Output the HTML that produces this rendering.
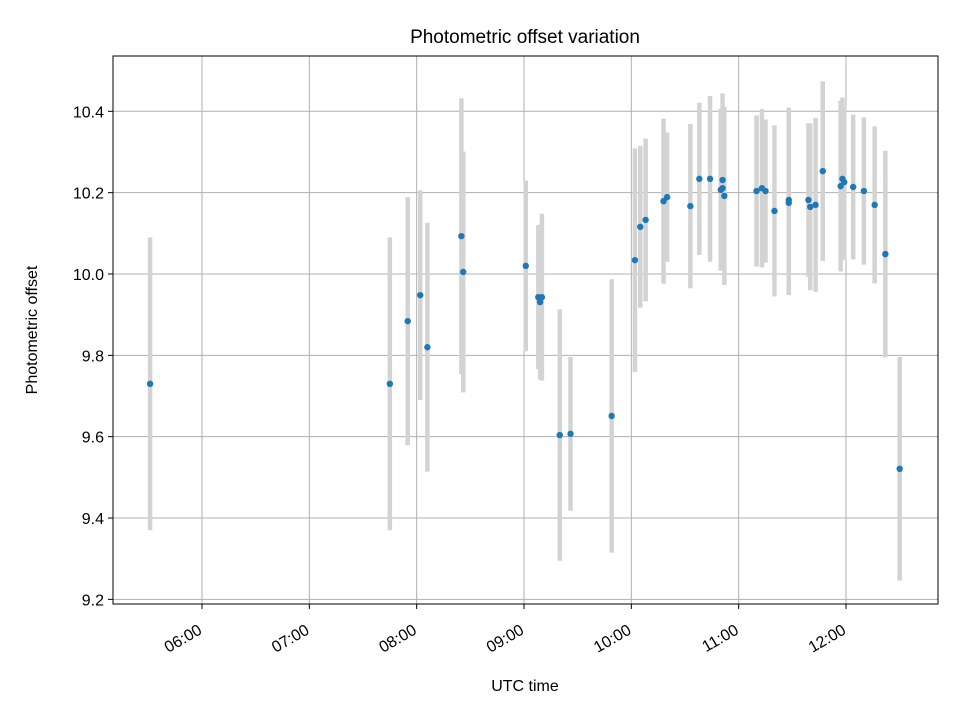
<!DOCTYPE html>
<html><head><meta charset="utf-8"><style>
html,body{margin:0;padding:0;background:#fff;}
svg text{font-family:"Liberation Sans","DejaVu Sans",sans-serif;fill:#000;}
</style></head><body>
<svg id="chart" width="960" height="720" viewBox="0 0 960 720" xmlns="http://www.w3.org/2000/svg">
<rect x="0" y="0" width="960" height="720" fill="#fff"/>
<g id="grid"></g>
<g id="errs"></g>
<g id="pts"></g>
<rect x="113" y="56" width="825" height="548" fill="none" stroke="#000" stroke-width="1"/>
<g id="axes"></g>
<text x="525" y="43" font-size="19" text-anchor="middle">Photometric offset variation</text>
<text x="525" y="691" font-size="16" text-anchor="middle">UTC time</text>
<text x="0" y="0" font-size="16" text-anchor="middle" transform="translate(37,330) rotate(-90)">Photometric offset</text>
</svg>
<script>
const times = ["05:31","07:45","07:55","08:02","08:06","08:25","08:26","09:01","09:08","09:09","09:10","09:20","09:26","09:49","10:02","10:05","10:08","10:18","10:20","10:33","10:38","10:44","10:50","10:51","10:51","10:52","11:10","11:13","11:15","11:20","11:28","11:28","11:39","11:40","11:43","11:47","11:57","11:58","11:59","12:04","12:10","12:16","12:22","12:30"];
const offsets = [9.730,9.730,9.884,9.948,9.820,10.093,10.005,10.020,9.943,9.931,9.943,9.604,9.607,9.651,10.034,10.116,10.133,10.179,10.189,10.167,10.234,10.234,10.207,10.211,10.231,10.192,10.204,10.211,10.204,10.155,10.182,10.175,10.182,10.165,10.170,10.253,10.216,10.234,10.226,10.214,10.204,10.170,10.049,9.521];
const errors = [0.360,0.360,0.305,0.258,0.306,0.339,0.296,0.210,0.177,0.190,0.205,0.309,0.189,0.336,0.275,0.199,0.200,0.203,0.159,0.202,0.187,0.204,0.199,0.199,0.213,0.219,0.186,0.195,0.176,0.210,0.227,0.227,0.189,0.205,0.214,0.221,0.210,0.200,0.187,0.178,0.181,0.193,0.254,0.275];
const xTicks = ["06:00","07:00","08:00","09:00","10:00","11:00","12:00"];
const yTicks = [9.2,9.4,9.6,9.8,10.0,10.2,10.4];

const L=113,R=938,T=56,B=604;
const xMin=5.171,xMax=12.857,yMin=9.1886,yMax=10.536;
function hrs(s){const p=s.split(":");return +p[0]+ +p[1]/60;}
function xs(h){return L+(h-xMin)/(xMax-xMin)*(R-L);}
function ys(v){return B-(v-yMin)/(yMax-yMin)*(B-T);}
const NS="http://www.w3.org/2000/svg";
function mk(tag,attrs,parent){const e=document.createElementNS(NS,tag);for(const k in attrs)e.setAttribute(k,attrs[k]);parent.appendChild(e);return e;}
const grid=document.getElementById('grid'),axes=document.getElementById('axes'),errs=document.getElementById('errs'),pts=document.getElementById('pts');

xTicks.forEach(t=>{
  const x=xs(hrs(t));
  const g=mk('line',{x1:x,x2:x,y1:T,y2:B,stroke:'#b0b0b0','stroke-width':1},grid);
  
  
  const tk=mk('line',{x1:x,x2:x,y1:B,y2:B+5,stroke:'#000','stroke-width':1},axes);
  
  
  const lb=mk('text',{'font-size':16,'text-anchor':'end',transform:`translate(${x+1},${633}) rotate(-30)`},axes);
  lb.textContent=t;
  
  
});
yTicks.forEach(v=>{
  const y=ys(v);
  const g=mk('line',{x1:L,x2:R,y1:y,y2:y,stroke:'#b0b0b0','stroke-width':1},grid);
  
  
  const tk=mk('line',{x1:L-5,x2:L,y1:y,y2:y,stroke:'#000','stroke-width':1},axes);
  
  
  const lb=mk('text',{x:L-9,y:y+6,'font-size':16,'text-anchor':'end'},axes);
  lb.textContent=v.toFixed(1);
  
  
});
times.forEach((t,i)=>{
  const x=xs(hrs(t));
  const e=mk('line',{x1:x,x2:x,y1:ys(offsets[i]+errors[i]),y2:ys(offsets[i]-errors[i]),stroke:'#d3d3d3','stroke-width':4.5},errs);
  
  
  const c=mk('circle',{cx:x,cy:ys(offsets[i]),r:3.2,fill:'#1f77b4'},pts);
  
  
});
</script>
</body></html>
